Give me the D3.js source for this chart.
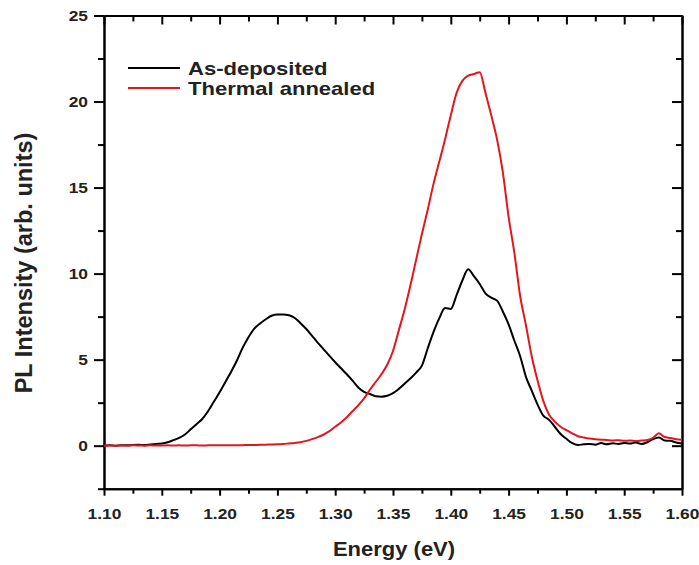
<!DOCTYPE html>
<html>
<head>
<meta charset="utf-8">
<script src="https://cdn.jsdelivr.net/npm/d3@7"></script>
<style>
  html, body { margin: 0; padding: 0; background: #fff; }
  svg { display: block; }
  text { font-family: "Liberation Sans", Arial, sans-serif; font-weight: bold; fill: #222; }
</style>
</head>
<body>
<svg id="chart" width="699" height="565"></svg>
<script>
// ---------- data ----------
const energy = [
  1.100,1.105,1.110,1.115,1.120,1.125,1.130,1.135,1.140,1.145,
  1.150,1.155,1.160,1.165,1.170,1.175,1.180,1.185,1.190,1.195,
  1.200,1.205,1.210,1.215,1.220,1.225,1.230,1.235,1.240,1.245,
  1.250,1.255,1.260,1.265,1.270,1.275,1.280,1.285,1.290,1.295,
  1.300,1.305,1.310,1.315,1.320,1.325,1.330,1.335,1.340,1.345,
  1.350,1.355,1.360,1.365,1.370,1.375,1.380,1.385,1.390,1.395,
  1.400,1.405,1.410,1.415,1.420,1.425,1.430,1.435,1.440,1.445,
  1.450,1.455,1.460,1.465,1.470,1.475,1.480,1.485,1.490,1.495,
  1.500,1.505,1.510,1.515,1.520,1.525,1.530,1.535,1.540,1.545,
  1.550,1.555,1.560,1.565,1.570,1.575,1.580,1.585,1.590,1.595,
  1.600
];
const asDeposited = [
  0.00,0.02,0.00,0.03,0.02,0.04,0.05,0.04,0.07,0.10,
  0.13,0.20,0.32,0.45,0.65,0.95,1.25,1.55,2.00,2.55,
  3.10,3.70,4.30,4.95,5.70,6.30,6.80,7.10,7.35,7.55,
  7.62,7.62,7.58,7.42,7.12,6.78,6.38,5.98,5.60,5.22,
  4.85,4.50,4.15,3.78,3.38,3.12,3.00,2.87,2.85,2.90,
  3.05,3.30,3.60,3.90,4.25,4.65,5.65,6.60,7.40,8.00,
  7.95,8.75,9.60,10.25,9.85,9.40,8.85,8.60,8.43,7.80,
  7.05,6.10,5.20,4.00,3.20,2.40,1.75,1.50,1.10,0.68,
  0.40,0.15,0.04,0.08,0.10,0.06,0.15,0.08,0.14,0.10,
  0.15,0.12,0.18,0.10,0.20,0.38,0.48,0.30,0.28,0.18,
  0.13
];
const thermalAnnealed = [
  0.00,0.01,0.00,0.01,0.00,0.02,0.01,0.00,0.02,0.01,
  0.01,0.02,0.01,0.02,0.01,0.02,0.02,0.01,0.02,0.03,
  0.02,0.03,0.03,0.02,0.03,0.04,0.04,0.05,0.06,0.07,
  0.08,0.10,0.13,0.16,0.20,0.28,0.38,0.50,0.65,0.85,
  1.10,1.35,1.65,2.00,2.35,2.75,3.25,3.70,4.15,4.70,
  5.50,6.70,7.90,9.30,10.80,12.30,13.70,15.20,16.50,17.80,
  19.20,20.50,21.20,21.50,21.60,21.70,20.50,19.20,17.80,15.90,
  13.30,11.20,8.70,7.00,5.20,3.80,2.60,1.80,1.40,1.10,
  0.90,0.72,0.55,0.48,0.42,0.38,0.35,0.33,0.30,0.32,
  0.28,0.30,0.27,0.30,0.33,0.45,0.72,0.50,0.45,0.38,
  0.35
];
const seriesNames = ["As-deposited", "Thermal annealed"];
const seriesColors = ["#000000", "#e3161e"];
const xTicks = [1.10,1.15,1.20,1.25,1.30,1.35,1.40,1.45,1.50,1.55,1.60];
const xMinorTicks = [1.125,1.175,1.225,1.275,1.325,1.375,1.425,1.475,1.525,1.575];
const yTicks = [0,5,10,15,20,25];
const yMinorTicks = [-2.5,2.5,7.5,12.5,17.5,22.5];
const xTitle = "Energy (eV)";
const yTitle = "PL Intensity (arb. units)";

// ---------- layout ----------
const L = 104, R = 682, T = 15.5, B = 488.7;
const sx = 1.12; // horizontal text stretch of the original

const svg = d3.select("#chart");
const x = d3.scaleLinear().domain([1.10, 1.60]).range([L, R]);
const y = d3.scaleLinear().domain([-2.5, 25]).range([B, T]);

function styleAxis(g) {
  g.selectAll("path.domain").attr("stroke", "#000").attr("stroke-width", 2);
  g.selectAll(".tick line").attr("stroke", "#000").attr("stroke-width", 2);
}

// bottom axis
const gB = svg.append("g").attr("transform", `translate(0,${B})`)
  .call(d3.axisBottom(x).tickValues(xTicks).tickSizeInner(7).tickSizeOuter(0).tickPadding(12)
    .tickFormat(d3.format(".2f")));
styleAxis(gB);
gB.selectAll(".tick text").attr("font-size", 15.5).attr("fill", "#222")
  .attr("font-family", "Liberation Sans, Arial, sans-serif").attr("font-weight", "bold")
  .attr("transform", `scale(${sx},1)`);
const gBm = svg.append("g").attr("transform", `translate(0,${B})`)
  .call(d3.axisBottom(x).tickValues(xMinorTicks).tickSizeInner(5).tickSizeOuter(0).tickFormat(""));
styleAxis(gBm);

// top axis (inward ticks)
const gT = svg.append("g").attr("transform", `translate(0,${T})`)
  .call(d3.axisBottom(x).tickValues(xTicks).tickSizeInner(9).tickSizeOuter(0).tickFormat(""));
styleAxis(gT);
const gTm = svg.append("g").attr("transform", `translate(0,${T})`)
  .call(d3.axisBottom(x).tickValues(xMinorTicks).tickSizeInner(6).tickSizeOuter(0).tickFormat(""));
styleAxis(gTm);

// left axis
const gL = svg.append("g").attr("transform", `translate(${L},0)`)
  .call(d3.axisLeft(y).tickValues(yTicks).tickSizeInner(10).tickSizeOuter(0).tickPadding(6));
styleAxis(gL);
gL.selectAll(".tick text").attr("font-size", 15.5).attr("fill", "#222")
  .attr("font-family", "Liberation Sans, Arial, sans-serif").attr("font-weight", "bold")
  .attr("x", -16 / sx).attr("dy", "0.34em")
  .attr("transform", `scale(${sx},1)`);
const gLm = svg.append("g").attr("transform", `translate(${L},0)`)
  .call(d3.axisLeft(y).tickValues(yMinorTicks).tickSizeInner(6).tickSizeOuter(0).tickFormat(""));
styleAxis(gLm);

// right axis (inward ticks)
const gR = svg.append("g").attr("transform", `translate(${R},0)`)
  .call(d3.axisLeft(y).tickValues(yTicks).tickSizeInner(10).tickSizeOuter(0).tickFormat(""));
styleAxis(gR);
const gRm = svg.append("g").attr("transform", `translate(${R},0)`)
  .call(d3.axisLeft(y).tickValues(yMinorTicks.filter(v => v > -2.5)).tickSizeInner(6).tickSizeOuter(0).tickFormat(""));
styleAxis(gRm);

// ---------- lines ----------
const line = d3.line().x(d => x(d[0])).y(d => y(d[1])).curve(d3.curveMonotoneX);
const clipId = "plotclip";
svg.append("clipPath").attr("id", clipId).append("rect")
  .attr("x", L).attr("y", T).attr("width", R - L).attr("height", B - T);
const seriesData = [asDeposited, thermalAnnealed];
const plot = svg.append("g").attr("clip-path", `url(#${clipId})`);
seriesData.forEach((vals, i) => {
  plot.append("path")
    .datum(energy.map((e, j) => [e, vals[j]]))
    .attr("fill", "none")
    .attr("stroke", seriesColors[i])
    .attr("stroke-width", 2)
    .attr("stroke-linejoin", "round")
    .attr("d", line);
});

// ---------- legend ----------
const legend = svg.append("g");
seriesNames.forEach((name, i) => {
  const ly = 68 + i * 20;
  legend.append("line").attr("x1", 128).attr("x2", 180).attr("y1", ly).attr("y2", ly)
    .attr("stroke", seriesColors[i]).attr("stroke-width", 2);
  legend.append("text")
    .attr("transform", `translate(188,${ly + 7}) scale(1.19,1)`)
    .attr("font-size", 18.5)
    .text(name);
});

// ---------- titles ----------
svg.append("text")
  .attr("transform", `translate(${(L + R) / 2 + 1},556) scale(1.1,1)`)
  .attr("text-anchor", "middle")
  .attr("font-size", 20)
  .text(xTitle);
svg.append("text")
  .attr("transform", `translate(32,263) rotate(-90)`)
  .attr("text-anchor", "middle")
  .attr("font-size", 23.5)
  .text(yTitle);
</script>
</body>
</html>
